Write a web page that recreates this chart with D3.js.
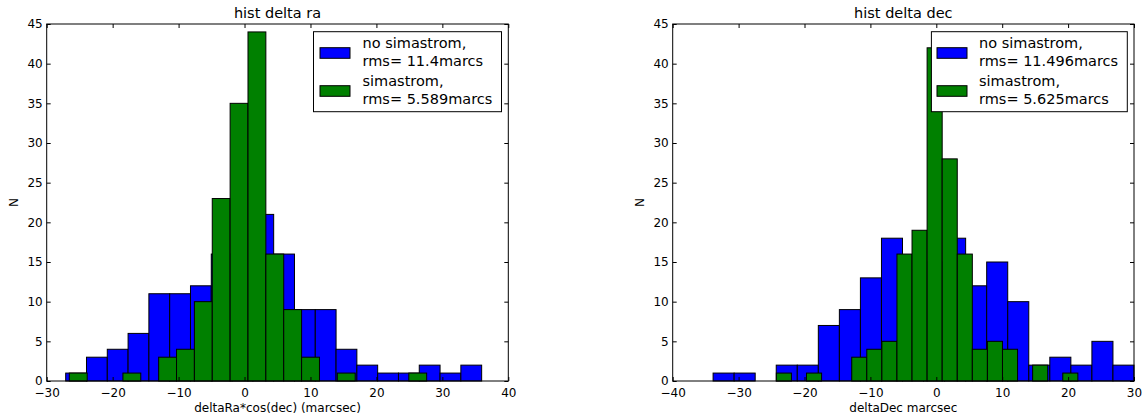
<!DOCTYPE html>
<html>
<head>
<meta charset="utf-8">
<script src="https://cdn.jsdelivr.net/npm/d3@7"></script>
<style>
  html, body { margin: 0; padding: 0; background: #fff; }
  svg { display: block; font-family: "DejaVu Sans", sans-serif; }
</style>
</head>
<body>
<svg id="chart" width="1146" height="419"></svg>
<script>
// ---- data ----
const raBlueRange = [-27.12, 35.96];
const raBlueCounts = [1, 3, 4, 6, 11, 11, 12, 16, 19, 21, 16, 9, 9, 4, 2, 1, 1, 2, 1, 2];
const raGreenRange = [-26.57, 27.62];
const raGreenCounts = [1, 0, 0, 1, 0, 3, 4, 10, 23, 35, 44, 16, 9, 3, 0, 1, 0, 0, 0, 1];

const decBlueRange = [-33.87, 30.0];
const decBlueCounts = [1, 1, 0, 2, 2, 7, 9, 13, 18, 14, 15, 18, 12, 15, 10, 2, 3, 2, 5, 2];
const decGreenRange = [-24.27, 21.48];
const decGreenCounts = [1, 0, 1, 0, 0, 3, 4, 5, 16, 19, 42, 28, 16, 4, 5, 4, 0, 2, 0, 1];

const raXTicks = [-30, -20, -10, 0, 10, 20, 30, 40];
const decXTicks = [-40, -30, -20, -10, 0, 10, 20, 30];
const yTicks = [0, 5, 10, 15, 20, 25, 30, 35, 40, 45];

const titles = ["hist delta ra", "hist delta dec"];
const xLabels = ["deltaRa*cos(dec) (marcsec)", "deltaDec marcsec"];
const yLabel = "N";
const legendRa = [["no simastrom,", "rms= 11.4marcs"], ["simastrom,", "rms= 5.589marcs"]];
const legendDec = [["no simastrom,", "rms= 11.496marcs"], ["simastrom,", "rms= 5.625marcs"]];
const seriesColors = ["#0000ff", "#008000"];

// ---- drawing ----
const svg = d3.select("#chart");

function bins(range, counts) {
  const w = (range[1] - range[0]) / counts.length;
  return counts.map((c, i) => ({ x0: range[0] + i * w, x1: range[0] + (i + 1) * w, n: c }));
}

function panel(opt) {
  const { left, right, top, bottom } = opt;
  const g = svg.append("g");
  const x = d3.scaleLinear().domain(d3.extent(opt.xTicks)).range([left, right]);
  const y = d3.scaleLinear().domain([0, 45]).range([bottom, top]);

  opt.series.forEach((s, si) => {
    g.append("g").selectAll("rect").data(bins(s.range, s.counts)).join("rect")
      .attr("x", d => x(d.x0))
      .attr("width", d => x(d.x1) - x(d.x0))
      .attr("y", d => y(d.n))
      .attr("height", d => y(0) - y(d.n))
      .attr("fill", seriesColors[si])
      .attr("stroke", "#000")
      .attr("stroke-width", 1);
  });

  // frame
  g.append("rect").attr("x", left).attr("y", top)
    .attr("width", right - left).attr("height", bottom - top)
    .attr("fill", "none").attr("stroke", "#000").attr("stroke-width", 1);

  const tl = 4;
  const ax = g.append("g").attr("transform", `translate(0,${bottom})`)
    .call(d3.axisBottom(x).tickValues(opt.xTicks).tickSizeInner(-tl).tickSizeOuter(0).tickPadding(7));
  const axT = g.append("g").attr("transform", `translate(0,${top})`)
    .call(d3.axisTop(x).tickValues(opt.xTicks).tickSizeInner(-tl).tickSizeOuter(0).tickFormat(""));
  const ay = g.append("g").attr("transform", `translate(${left},0)`)
    .call(d3.axisLeft(y).tickValues(yTicks).tickSizeInner(-tl).tickSizeOuter(0).tickPadding(4));
  const ayR = g.append("g").attr("transform", `translate(${right},0)`)
    .call(d3.axisRight(y).tickValues(yTicks).tickSizeInner(-tl).tickSizeOuter(0).tickFormat(""));
  [ax, axT, ay, ayR].forEach(a => {
    a.select(".domain").remove();
    a.selectAll("text").attr("font-size", 12).attr("font-family", "DejaVu Sans").attr("fill", "#000");
    a.selectAll("line").attr("stroke", "#000");
  });

  g.append("text").attr("x", (left + right) / 2).attr("y", 18)
    .attr("text-anchor", "middle").attr("font-size", 14.5).text(opt.title);
  g.append("text").attr("x", (left + right) / 2).attr("y", 412)
    .attr("text-anchor", "middle").attr("font-size", 12).text(opt.xLabel);
  g.append("text").attr("transform", `translate(${opt.yLabelX},${(top + bottom) / 2}) rotate(-90)`)
    .attr("text-anchor", "middle").attr("font-size", 12).text(yLabel);

  // legend
  const L = opt.legend;
  const lg = g.append("g");
  lg.append("rect").attr("x", L.x0).attr("y", L.y0).attr("width", L.x1 - L.x0).attr("height", L.y1 - L.y0)
    .attr("fill", "#fff").attr("stroke", "#000").attr("stroke-width", 1);
  L.labels.forEach((lab, i) => {
    const cy = L.y0 + 21.3 + i * 38;
    lg.append("rect").attr("x", L.px).attr("y", cy - 5.3).attr("width", 30).attr("height", 10.6)
      .attr("fill", seriesColors[i]).attr("stroke", "#000").attr("stroke-width", 1);
    lab.forEach((line, j) => {
      lg.append("text").attr("x", L.tx).attr("y", cy - 5 + j * 18)
        .attr("font-size", 14.5).text(line);
    });
  });
}

panel({
  left: 46.7, right: 508.3, top: 24, bottom: 381,
  xTicks: raXTicks, title: titles[0], xLabel: xLabels[0], yLabelX: 17.5,
  series: [{ range: raBlueRange, counts: raBlueCounts }, { range: raGreenRange, counts: raGreenCounts }],
  legend: { x0: 313.5, x1: 501.5, y0: 31.7, y1: 111.7, px: 320, tx: 362.5, labels: legendRa }
});
panel({
  left: 672.7, right: 1134, top: 24, bottom: 381,
  xTicks: decXTicks, title: titles[1], xLabel: xLabels[1], yLabelX: 643.5,
  series: [{ range: decBlueRange, counts: decBlueCounts }, { range: decGreenRange, counts: decGreenCounts }],
  legend: { x0: 931.4, x1: 1127.3, y0: 31.7, y1: 111.7, px: 937, tx: 979, labels: legendDec }
});
</script>
</body>
</html>
